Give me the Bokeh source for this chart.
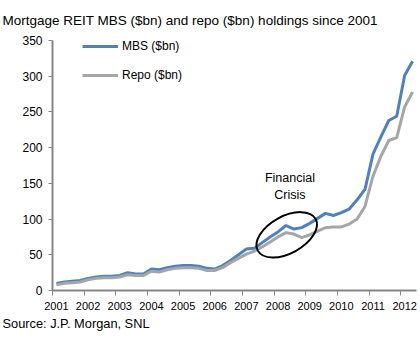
from bokeh.plotting import figure
from bokeh.models import Title, FixedTicker, Label, Legend, LegendItem, Range1d
from bokeh.embed import file_html
from bokeh.resources import INLINE

# ---- data (quarterly, 2001 Q1 .. 2012 Q2) ----
years = [2001, 2002, 2003, 2004, 2005, 2006, 2007, 2008, 2009, 2010, 2011, 2012]
mbs = [10, 12, 13, 14, 17, 19, 20, 20, 21, 25, 23, 23, 30, 29, 32, 34,
       35, 35, 34, 31, 30, 35, 42, 50, 58, 59, 67, 75, 82, 91, 86, 88,
       94, 101, 108, 105, 109, 114, 127, 142, 191, 215, 238, 244, 301, 321]
repo = [8, 10, 11, 12, 15, 17, 18, 18, 19, 22, 21, 21, 27, 26, 29, 31,
        32, 32, 31, 28, 28, 32, 39, 45, 51, 55, 61, 68, 75, 81, 79, 74,
        78, 83, 88, 89, 89, 93, 100, 118, 160, 188, 210, 214, 257, 278]
y_ticks = [0, 50, 100, 150, 200, 250, 300, 350]

# quarter positions (center of each quarter slot)
xq = [years[0] + (i + 0.5) / 4 for i in range(len(mbs))]

FONT = "'Liberation Sans Narrow', 'Arial Narrow', 'Liberation Sans', Arial, sans-serif"

p = figure(width=420, height=340, output_backend="svg", toolbar_location=None,
           x_range=Range1d(2001, 2012.5), y_range=Range1d(0, 350),
           min_border_left=52, min_border_right=4, min_border_top=40,
           min_border_bottom=50)
p.outline_line_color = None
p.grid.grid_line_color = None
p.background_fill_color = "white"
p.border_fill_color = "white"

l1 = p.line(xq, mbs, line_color="#4F81BD", line_width=3)
l2 = p.line(xq, repo, line_color="#A6A6A6", line_width=3)

# axes
for ax in (p.xaxis[0], p.yaxis[0]):
    ax.axis_line_color = "#868686"
    ax.axis_line_width = 2
    ax.major_tick_line_color = "#868686"
    ax.minor_tick_line_color = "#868686"
    ax.major_label_text_font = FONT
    ax.major_label_text_color = "black"

p.yaxis.major_label_text_font_size = "12px"
p.yaxis.ticker = FixedTicker(ticks=y_ticks)
p.yaxis.major_tick_out = 4
p.yaxis.major_tick_in = 0
p.yaxis.minor_tick_out = 0
p.yaxis.minor_tick_in = 0
p.yaxis.major_label_standoff = 6

label_pos = [y + 0.125 for y in years]
p.xaxis.ticker = FixedTicker(ticks=label_pos, minor_ticks=years)
p.xaxis.major_label_overrides = {lp: str(y) for lp, y in zip(label_pos, years)}
p.xaxis.major_label_text_font_size = "11px"
p.xaxis.major_tick_out = 0
p.xaxis.major_tick_in = 0
p.xaxis.minor_tick_out = 5
p.xaxis.minor_tick_in = 0
p.xaxis.major_label_standoff = 6

# ellipse annotation
p.ellipse(x=[2008.4], y=[78], width=[66], height=[37], angle=[0.5],
          width_units="screen", height_units="screen",
          fill_color=None, line_color="black", line_width=2)

for txt, yy in (("Financial", 158), ("Crisis", 134)):
    p.add_layout(Label(x=2008.5, y=yy, text=txt, text_align="center",
                       text_baseline="middle", text_font=FONT,
                       text_font_size="12.5px", text_color="black"))

legend = Legend(items=[LegendItem(label="MBS ($bn)", renderers=[l1]),
                       LegendItem(label="Repo ($bn)", renderers=[l2])],
                location=(30, 205), orientation="vertical")
legend.border_line_color = None
legend.background_fill_alpha = 0
legend.padding = 0
legend.margin = 0
legend.spacing = 9
legend.glyph_width = 36
legend.glyph_height = 20
legend.label_height = 20
legend.label_standoff = 4
legend.label_text_font = FONT
legend.label_text_font_size = "12px"
legend.label_text_color = "black"
p.add_layout(legend, "center")

p.add_layout(Title(text="Mortgage REIT MBS ($bn) and repo ($bn) holdings since 2001",
                   align="left", offset=-50, vertical_align="top", text_font=FONT,
                   text_font_size="13.5px", text_font_style="normal",
                   text_color="black", standoff=22), "above")
p.add_layout(Title(text="Source: J.P. Morgan, SNL", align="left", offset=-50,
                   text_font=FONT, text_font_size="12.8px",
                   text_font_style="normal", text_color="black", standoff=2), "below")

open("out.html", "w").write(file_html(p, INLINE))
